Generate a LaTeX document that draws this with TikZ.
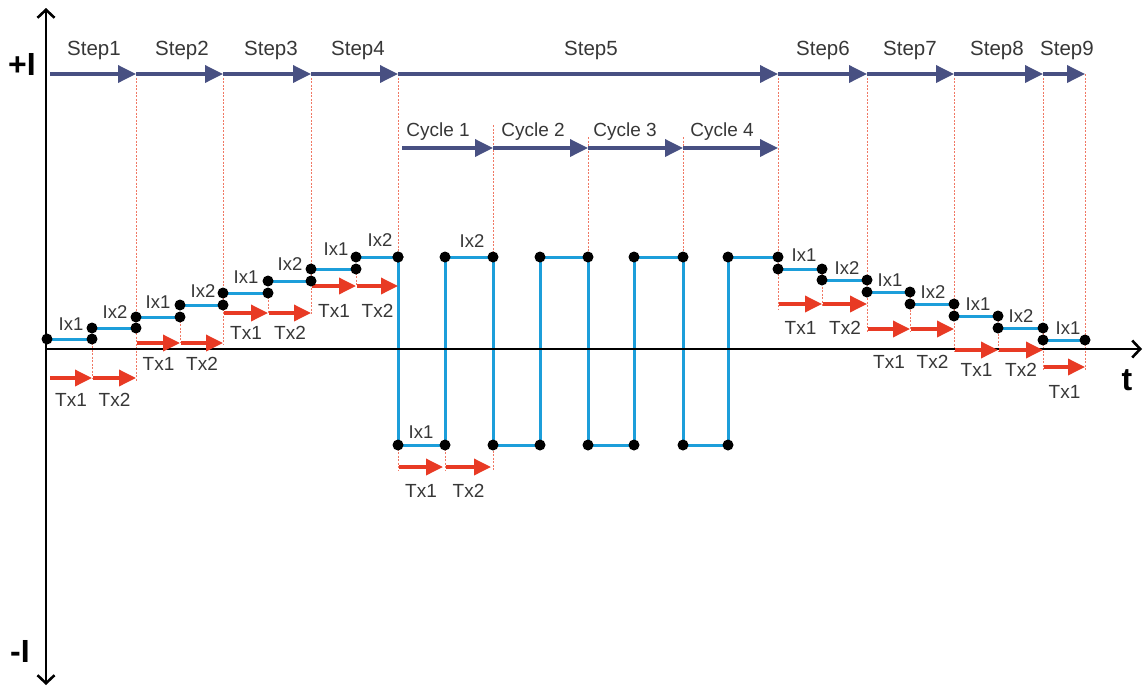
\documentclass[tikz,border=0pt]{standalone}
\usepackage{fontspec}
\setmainfont{Liberation Sans}
\usetikzlibrary{arrows.meta}

\definecolor{stepblue}{RGB}{72,80,130}
\definecolor{txred}{RGB}{232,58,36}
\definecolor{wave}{RGB}{28,158,218}
\definecolor{guide}{RGB}{240,120,100}
\definecolor{ink}{RGB}{55,55,55}

\tikzset{
  guideline/.style={guide, line width=0.9pt, dash pattern=on 2pt off 1.5pt},
  steparrow/.style={stepblue, line width=3.5pt, -{Triangle[length=18pt,width=17pt]}},
  txarrow/.style={txred, line width=3.5pt, -{Triangle[length=17pt,width=16pt]}},
  waveline/.style={wave, line width=3pt},
  axisline/.style={black, line width=2.6pt},
  lbl/.style={ink, font=\fontsize{19}{20}\selectfont, inner sep=0pt},
  steplbl/.style={ink, font=\fontsize{20.5}{22}\selectfont, inner sep=0pt, anchor=base},
  axislbl/.style={black, font=\fontsize{32}{34}\selectfont\bfseries, inner sep=0pt},
}

\begin{document}
\begin{tikzpicture}[x=1pt,y=-1pt]
\useasboundingbox (0,0) rectangle (1143,686);

% ---- corner points of the current waveform ----
% ramp steps: start of Ix1, end of Ix1, start of Ix2, end of Ix2
\foreach \i/\xa/\xm/\xb/\ya/\yb in {
    1/47/92/136/339/328, 2/136/180/223/317/305, 3/223/268/311/293/281,
    4/311/356/398/269/257, 6/778/822/867/269/280, 7/867/910/954/292/304,
    8/954/998/1043/316/328}{
  \coordinate (s\i-1) at (\xa,\ya);
  \coordinate (s\i-2) at (\xm,\ya);
  \coordinate (s\i-3) at (\xm,\yb);
  \coordinate (s\i-4) at (\xb,\yb);
}
\coordinate (s9-1) at (1043,340);
\coordinate (s9-2) at (1085,340);
% alternating cycles of step 5
\foreach \k/\x/\y in {0/398/257, 1/398/445, 2/445/445, 3/445/257, 4/493/257,
    5/493/445, 6/540/445, 7/540/257, 8/588/257, 9/588/445, 10/634/445,
    11/634/257, 12/683/257, 13/683/445, 14/728/445, 15/728/257, 16/778/257}{
  \coordinate (w\k) at (\x,\y);
}

% ---- dotted time marks ----
\foreach \x/\ya/\yb in {92/339/378, 136/74/382, 180/317/343, 223/74/345,
    268/293/313, 311/74/315, 356/269/286, 398/74/470, 445/445/470,
    493/125/470, 588/137/257, 683/137/257, 778/74/310, 822/269/306,
    867/74/333, 910/292/331, 954/74/352, 998/316/352, 1043/74/370,
    1085/74/370}{
  \draw[guideline] (\x,\ya) -- (\x,\yb);
}

% ---- waveform ----
\foreach \i in {1,2,3,4,6,7,8}{
  \draw[waveline] (s\i-1) -- (s\i-2) (s\i-3) -- (s\i-4);
}
\draw[waveline] (s9-1) -- (s9-2);
\draw[waveline] (w0) \foreach \k in {1,...,16}{ -- (w\k)};

% ---- axes ----
\coordinate (ytop) at (46,8);
\coordinate (ybot) at (46,685);
\coordinate (orig) at (46,349);
\coordinate (tend) at (1142,349);
\draw[axisline, {Straight Barb[length=8pt,width=17pt]}-{Straight Barb[length=8pt,width=17pt]}] (ybot) -- (ytop);
\draw[axisline, -{Straight Barb[length=8pt,width=17pt]}] (orig) -- (tend);
\node[axislbl] (plusI) at (22,64) {+I};
\node[axislbl] (minusI) at (20,651) {-I};
\node[axislbl] (tlbl) at (1127,380) {t};

% ---- step arrows ----
\foreach \i/\x in {0/50, 1/136, 2/223, 3/311, 4/398, 5/778, 6/867, 7/954, 8/1043, 9/1085}{
  \coordinate (b\i) at (\x,74);
}
\foreach \i/\j in {0/1, 1/2, 2/3, 3/4, 4/5, 5/6, 6/7, 7/8, 8/9}{
  \draw[steparrow] (b\i) -- (b\j);
}
\foreach \n/\x in {1/94, 2/182, 3/271, 4/358, 5/591, 6/823, 7/910, 8/997, 9/1067}{
  \node[steplbl] (step\n) at (\x,55) {Step\n};
}

% ---- cycle arrows ----
\foreach \i/\x in {0/402, 1/493, 2/588, 3/683, 4/778}{
  \coordinate (c\i) at (\x,148);
}
\foreach \i/\j in {0/1, 1/2, 2/3, 3/4}{
  \draw[steparrow] (c\i) -- (c\j);
}
\foreach \n/\x in {1/438, 2/533, 3/625, 4/722}{
  \node[steplbl, font=\fontsize{19}{20}\selectfont] (cyc\n) at (\x,136) {Cycle \n};
}

% ---- dwell-time arrows ----
\foreach \k/\xa/\xb/\y/\ly/\t in {
    1/50/92/378/400/Tx1, 2/93/136/378/400/Tx2, 3/137/180/343/364/Tx1,
    4/181/223/343/364/Tx2, 5/224/268/313/333/Tx1, 6/269/311/313/333/Tx2,
    7/312/356/286/311/Tx1, 8/357/398/286/311/Tx2, 9/399/443/467/491/Tx1,
    10/446/491/467/491/Tx2, 11/779/822/304/328/Tx1, 12/823/867/304/328/Tx2,
    13/868/910/329/362/Tx1, 14/911/954/329/362/Tx2, 15/955/998/350/370/Tx1,
    16/999/1043/350/370/Tx2, 17/1044/1085/367/392/Tx1}{
  \coordinate (ta\k) at (\xa,\y);
  \coordinate (tb\k) at (\xb,\y);
  \draw[txarrow] (ta\k) -- (tb\k);
  \node[lbl] (tx\k) at ({(\xa+\xb)/2},\ly) {\t};
}

% ---- corner dots ----
\foreach \i in {1,2,3,4,6,7,8}{
  \foreach \j in {1,2,3,4}{ \fill (s\i-\j) circle[radius=5.5pt]; }
}
\fill (s9-1) circle[radius=5.5pt] (s9-2) circle[radius=5.5pt];
\foreach \k in {0,...,16}{ \fill (w\k) circle[radius=5.5pt]; }

% ---- current level labels ----
\foreach \k/\x/\y/\t in {
    1/71/324/Ix1, 2/115/312/Ix2, 3/158/302/Ix1, 4/203/291/Ix2,
    5/246/277/Ix1, 6/290/264/Ix2, 7/336/249/Ix1, 8/380/240/Ix2,
    9/472/241/Ix2, 10/421/432/Ix1, 11/804/255/Ix1, 12/847/268/Ix2,
    13/890/280/Ix1, 14/933/292/Ix2, 15/978/304/Ix1, 16/1021/316/Ix2,
    17/1068/328/Ix1}{
  \node[lbl, font=\fontsize{18.5}{19}\selectfont] (ix\k) at (\x,\y) {\t};
}
\end{tikzpicture}
\end{document}
